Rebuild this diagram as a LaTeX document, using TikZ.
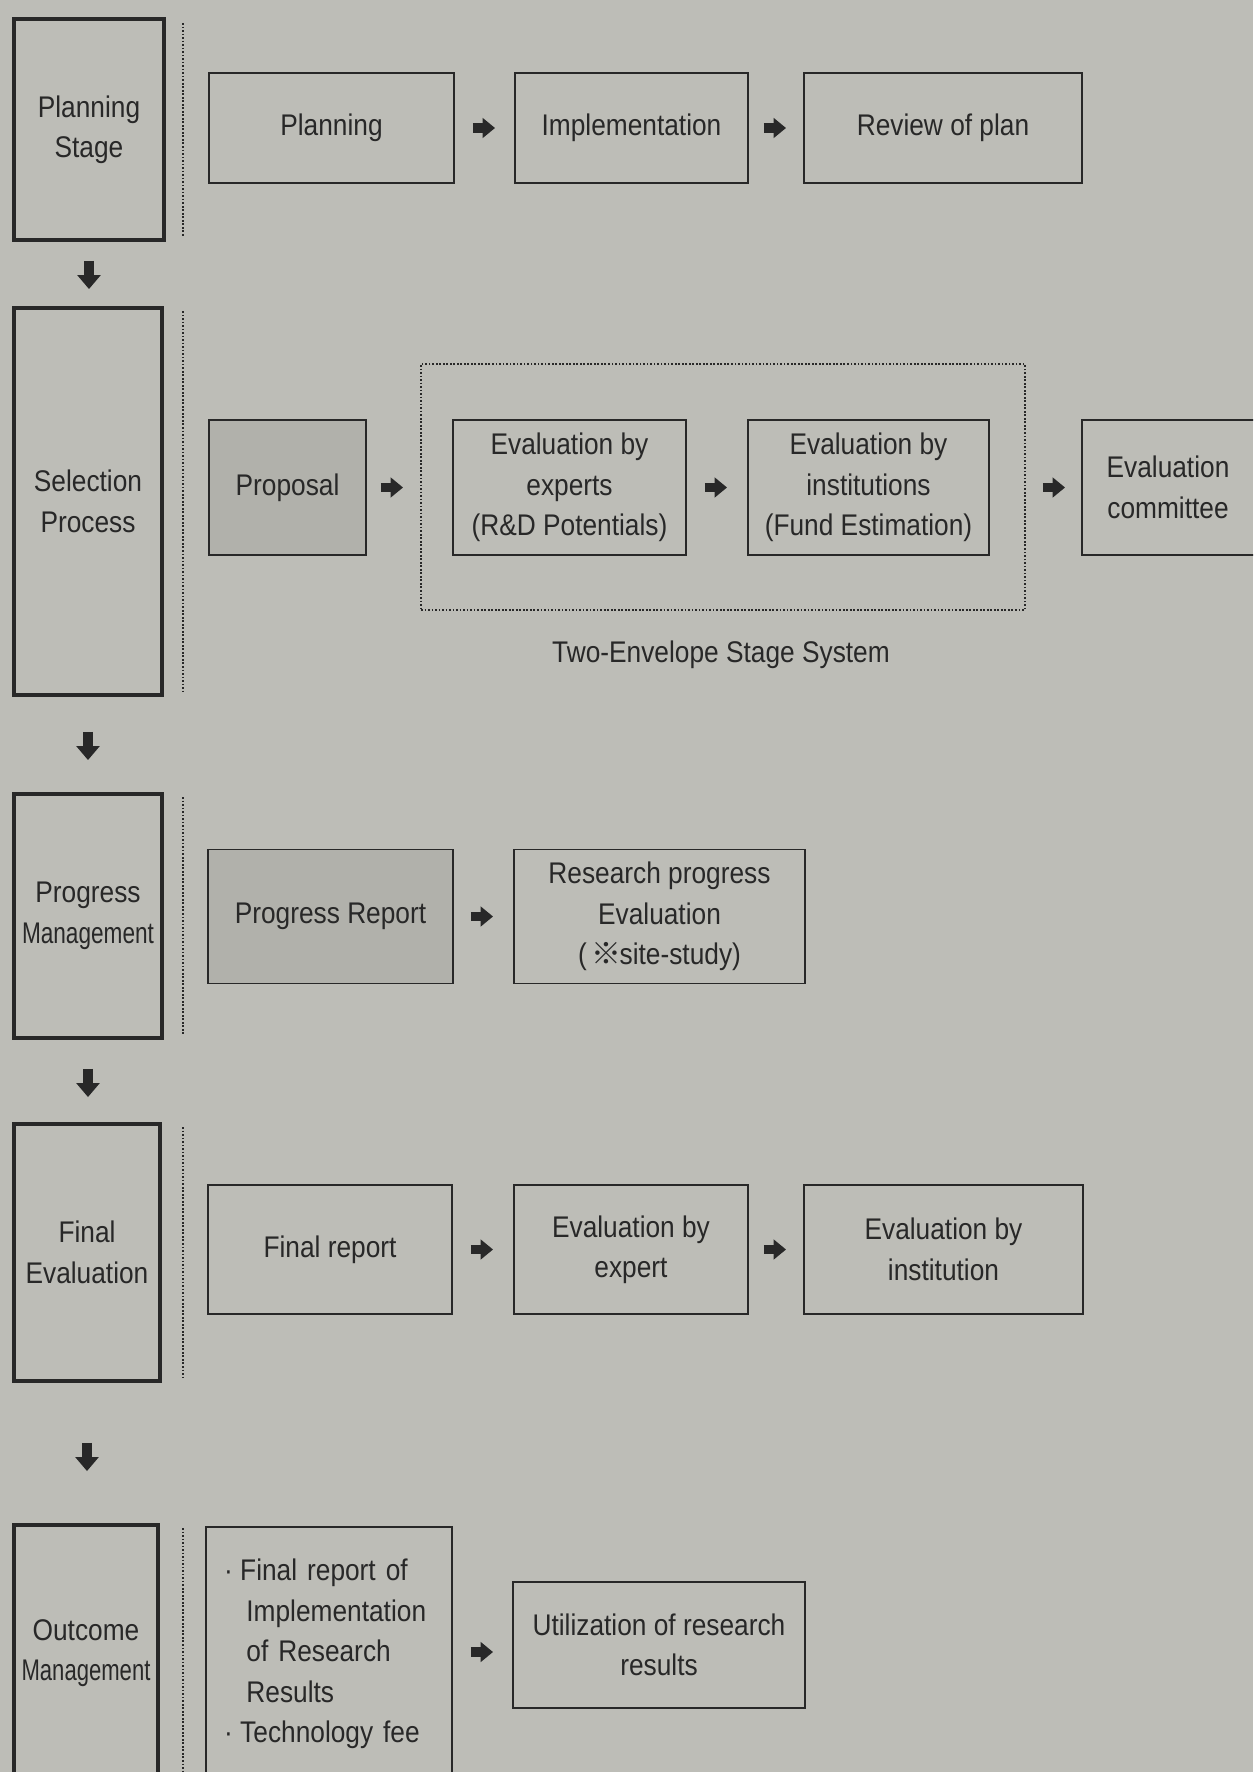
\documentclass[tikz,border=0pt]{standalone}
\usepackage{graphicx}
\usepackage{fontspec}
\setmainfont{Liberation Sans}[FakeStretch=0.88]
\newfontfamily\markfont{Noto Sans CJK KR}
\usetikzlibrary{arrows.meta,calc}
\definecolor{paper}{RGB}{189,189,183}
\definecolor{ink}{RGB}{40,40,40}
\definecolor{shade}{RGB}{177,177,171}
\begin{document}
\begin{tikzpicture}[x=0.2mm,y=-0.2mm,
  every node/.style={font=\fontsize{17}{23}\selectfont, text=ink, align=center, inner sep=0pt},
  stagebox/.style={draw=ink, line width=2.2pt},
  procbox/.style={draw=ink, line width=1.1pt},
  shadedbox/.style={procbox, fill=shade},
  sepline/.style={draw=ink, line width=0.8pt, dash pattern=on 1pt off 1pt},
  fatarrow/.style={draw=ink, line width=5.2pt, -{Triangle[width=11pt,length=7pt]}},
  downarrow/.style={draw=ink, line width=6pt, -{Triangle[width=13pt,length=8pt]}},
]
\fill[paper] (0,0) rectangle (1253,1772);
\clip (0,0) rectangle (1253,1772);

% stage column
\node[stagebox, minimum width=30mm, minimum height=44.2mm] (ps) at (89,129.5) {Planning\\Stage};
\node[stagebox, minimum width=29.6mm, minimum height=77.4mm] (sp) at (88,501.5) {Selection\\Process};
\node[stagebox, minimum width=29.6mm, minimum height=48.8mm] (pm) at (88,916) {Progress\\\scalebox{0.86}[1]{Management}};
\node[stagebox, minimum width=29.2mm, minimum height=51.4mm] (fe) at (87,1252.5) {Final\\Evaluation};
\node[stagebox, minimum width=28.8mm, minimum height=51.2mm] (om) at (86,1653) {Outcome\\\scalebox{0.84}[1]{Management}};

% dotted separators
\draw[sepline] (183,23) -- (183,237);
\draw[sepline] (183,311) -- (183,692);
\draw[sepline] (183,797) -- (183,1035);
\draw[sepline] (183,1127) -- (183,1378);
\draw[sepline] (183,1528) -- (183,1772);

% row 1
\node[procbox, minimum width=49mm, minimum height=22mm] (plan) at (331.5,128) {Planning};
\node[procbox, minimum width=46.6mm, minimum height=22mm] (impl) at (631.5,128) {Implementation};
\node[procbox, minimum width=55.6mm, minimum height=22mm] (rev) at (943,128) {Review of plan};

% row 2
\node[sepline, minimum width=120.8mm, minimum height=49.2mm] (env) at (723,487) {};
\node (envlabel) at (721,655) {Two-Envelope Stage System};
\node[shadedbox, minimum width=31.4mm, minimum height=27mm] (prop) at (287.5,487.5) {Proposal};
\node[procbox, minimum width=46.6mm, minimum height=27mm] (exp) at (569.5,487.5) {Evaluation by\\experts\\(R\&D Potentials)};
\node[procbox, minimum width=48.2mm, minimum height=27mm] (inst) at (868.5,487.5) {Evaluation by\\institutions\\(Fund Estimation)};
\node[procbox, minimum width=36mm, minimum height=27mm, text width=36mm] (comm) at (1172,487.5) {\hspace*{-1.6mm}Evaluation\\\hspace*{-1.6mm}committee};

% row 3
\node[shadedbox, minimum width=49mm, minimum height=26.8mm] (prep) at (330.5,916.5) {Progress Report};
\node[procbox, minimum width=58.2mm, minimum height=26.8mm] (rpe) at (659.5,916.5) {Research progress\\Evaluation\\(\hspace{0.15em}{\markfont ※}\hspace{-0.05em}site-study)};

% row 4
\node[procbox, minimum width=48.8mm, minimum height=25.8mm] (fr) at (330,1249.5) {Final report};
\node[procbox, minimum width=46.8mm, minimum height=25.8mm] (ee) at (631,1249.5) {Evaluation by\\expert};
\node[procbox, minimum width=55.8mm, minimum height=25.8mm] (ei) at (943.5,1249.5) {Evaluation by\\institution};

% row 5
\node[procbox, align=left, inner xsep=3.6mm, text width=42mm, minimum height=50.8mm] (fr2) at (329,1654)
  {·\hspace{0.25em}Final report of\\\hspace{0.75em}Implementation\\\hspace{0.75em}of Research\\\hspace{0.75em}Results\\·\hspace{0.25em}Technology fee};
\node[procbox, minimum width=58.4mm, minimum height=25.2mm] (util) at (659,1645) {Utilization of research\\results};
\coordinate (fr2out) at ($(fr2.east)+(0,-2)$);

% horizontal arrows
\draw[fatarrow, shorten <=3.6mm, shorten >=3.8mm] (plan.east) -- (impl.west);
\draw[fatarrow, shorten <=3.0mm, shorten >=3.4mm] (impl.east) -- (rev.west);
\draw[fatarrow, shorten <=2.8mm, shorten >=9.8mm] (prop.east) -- (exp.west);
\draw[fatarrow, shorten <=3.6mm, shorten >=4.0mm] (exp.east) -- (inst.west);
\draw[fatarrow, shorten <=10.6mm, shorten >=3.2mm] (inst.east) -- (comm.west);
\draw[fatarrow, shorten <=3.4mm, shorten >=4.0mm] (prep.east) -- (rpe.west);
\draw[fatarrow, shorten <=3.6mm, shorten >=4.0mm] (fr.east) -- (ee.west);
\draw[fatarrow, shorten <=3.0mm, shorten >=3.4mm] (ee.east) -- (ei.west);
\draw[fatarrow, shorten <=3.6mm, shorten >=3.8mm] (fr2out) -- (fr2out -| util.west);

% vertical arrows
\draw[downarrow, shorten <=3.8mm, shorten >=3.4mm] (ps.south) -- (ps.south |- sp.north);
\draw[downarrow, shorten <=7.0mm, shorten >=6.4mm] (sp.south) -- (sp.south |- pm.north);
\draw[downarrow, shorten <=5.8mm, shorten >=5.0mm] (pm.south) -- (pm.south |- fe.north);
\draw[downarrow, shorten <=12.0mm, shorten >=10.4mm] (fe.south) -- (fe.south |- om.north);
\end{tikzpicture}
\end{document}
